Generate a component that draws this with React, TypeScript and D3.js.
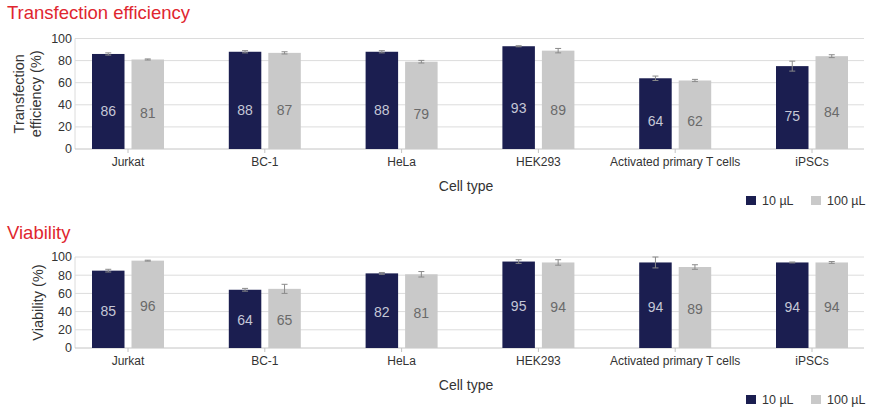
import React from 'react'
import * as d3 from 'd3'

const cellTypes = ['Jurkat', 'BC-1', 'HeLa', 'HEK293', 'Activated primary T cells', 'iPSCs']
const seriesNames = ['10 µL', '100 µL']

const transfection10 = [86, 88, 88, 93, 64, 75]
const transfection100 = [81, 87, 79, 89, 62, 84]
const transfectionErr10 = [1, 1, 1, 0.5, 2, 4.5]
const transfectionErr100 = [0.5, 1, 1.2, 2, 1, 1.3]

const viability10 = [85, 64, 82, 95, 94, 94]
const viability100 = [96, 65, 81, 94, 89, 94]
const viabilityErr10 = [1.5, 1.5, 1, 2, 6, 0.5]
const viabilityErr100 = [0.5, 5, 3, 3, 2.5, 1]

const yTicks = [0, 20, 40, 60, 80, 100]

const DARK = '#1b1e50'
const LIGHT = '#c9c9c9'
const GRID = '#dcdcdc'
const RED = '#e0262f'
const FONT = '"Liberation Sans", Arial, sans-serif'

interface PanelProps {
  title: string
  titleY: number
  yLabel: string[]
  top: number
  bottom: number
  values: number[][]
  errors: number[][]
  labelFrac: number
}

const Panel: React.FC<PanelProps> = ({ title, titleY, yLabel, top, bottom, values, errors, labelFrac }) => {
  const x = d3.scalePoint<string>().domain(cellTypes).range([128, 812])
  const y = d3.scaleLinear().domain([0, 100]).range([bottom, top])
  const barW = 32.5
  const gap = 3.5
  const left = 75
  const right = 864
  const midY = (top + bottom) / 2

  return (
    <g>
      <text x={7} y={titleY} fill={RED} fontSize={18.5} fontFamily={FONT}>{title}</text>

      {yTicks.map(t => (
        <g key={t}>
          {t > 0 && <line x1={left} x2={right} y1={y(t)} y2={y(t)} stroke={GRID} strokeWidth={1} />}
          <text x={72} y={y(t)} dy="0.35em" textAnchor="end" fontSize={12.5} fill="#333" fontFamily={FONT}>{t}</text>
        </g>
      ))}
      <line x1={left} x2={left} y1={top} y2={bottom} stroke={GRID} />
      <line x1={left} x2={right} y1={bottom} y2={bottom} stroke="#c4c4c4" />

      {yLabel.map((l, i) => {
        const lx = yLabel.length === 1 ? 38 : 19 + i * 17
        return (
          <text key={l} transform={`translate(${lx},${midY}) rotate(-90)`} textAnchor="middle" dy="0.35em"
            fontSize={14.5} fill="#333" fontFamily={FONT}>{l}</text>
        )
      })}

      {cellTypes.map((c, i) => {
        const cx = x(c)!
        return (
          <g key={c}>
            <line x1={cx} x2={cx} y1={bottom} y2={bottom + 4} stroke="#c4c4c4" />
            {values.map((vals, s) => {
              const v = vals[i]
              const e = errors[s][i]
              const bx = s === 0 ? cx - gap - barW : cx + gap
              const bc = bx + barW / 2
              return (
                <g key={s}>
                  <rect x={bx} y={y(v)} width={barW} height={bottom - y(v)} fill={s === 0 ? DARK : LIGHT} />
                  <line x1={bc} x2={bc} y1={y(v + e)} y2={y(v - e)} stroke="#8a8a8a" strokeWidth={1} />
                  <line x1={bc - 3} x2={bc + 3} y1={y(v + e)} y2={y(v + e)} stroke="#8a8a8a" strokeWidth={1} />
                  <line x1={bc - 3} x2={bc + 3} y1={y(v - e)} y2={y(v - e)} stroke="#8a8a8a" strokeWidth={1} />
                  <text x={bc} y={y(v * labelFrac)} dy="0.35em" textAnchor="middle" fontSize={14}
                    fill={s === 0 ? '#c5c7d6' : '#6a6a6a'} fontFamily={FONT}>{v}</text>
                </g>
              )
            })}
            <text x={cx} y={bottom + 17} textAnchor="middle" fontSize={12} fill="#333" fontFamily={FONT}>{c}</text>
          </g>
        )
      })}

      <text x={466} y={bottom + 42} textAnchor="middle" fontSize={14} fill="#333" fontFamily={FONT}>Cell type</text>

      {seriesNames.map((n, s) => {
        const lx = s === 0 ? 746 : 811
        return (
          <g key={n}>
            <rect x={lx} y={bottom + 47} width={10} height={9} fill={s === 0 ? DARK : LIGHT} />
            <text x={lx + 16} y={bottom + 56} fontSize={12.5} fill="#333" fontFamily={FONT}>{n}</text>
          </g>
        )
      })}
    </g>
  )
}

export default function App() {
  return (
    <div style={{ position: 'absolute', left: 0, top: 0 }}>
      <svg width={870} height={414} style={{ display: 'block', background: '#fff' }}>
        <Panel
          title="Transfection efficiency"
          titleY={19}
          yLabel={['Transfection', 'efficiency (%)']}
          top={38.5}
          bottom={149}
          values={[transfection10, transfection100]}
          errors={[transfectionErr10, transfectionErr100]}
          labelFrac={0.4}
        />
        <Panel
          title="Viability"
          titleY={239}
          yLabel={['Viability (%)']}
          top={257}
          bottom={348}
          values={[viability10, viability100]}
          errors={[viabilityErr10, viabilityErr100]}
          labelFrac={0.48}
        />
      </svg>
    </div>
  )
}
